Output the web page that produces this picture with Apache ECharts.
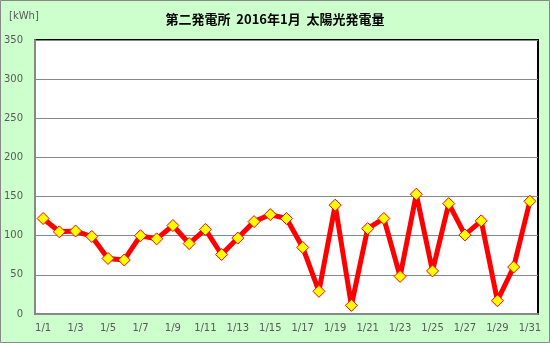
<!DOCTYPE html>
<html><head><meta charset="utf-8">
<script src="https://cdn.jsdelivr.net/npm/echarts@6/dist/echarts.min.js"></script>
<style>html,body{margin:0;padding:0;}#c{width:550px;height:343px;}</style>
</head><body><div id="c"></div>
<script>
const categories = ['1/1','1/2','1/3','1/4','1/5','1/6','1/7','1/8','1/9','1/10','1/11','1/12','1/13','1/14','1/15','1/16','1/17','1/18','1/19','1/20','1/21','1/22','1/23','1/24','1/25','1/26','1/27','1/28','1/29','1/30','1/31'];
const values = [122,105,106,99,71,69,100,96,113,90,108,76,97,118,127,122,85,29,139,11,109,122,48,153,55,141,101,119,17,60,144];
const titleText = '第二発電所  2016年1月  太陽光発電量';
const unitText = '[kWh]';

const chart = echarts.init(document.getElementById('c'));
chart.setOption({
  backgroundColor: '#CCFFCC',
  animation: false,
  title: {
    text: titleText, left: 'center', top: 8,
    textStyle: {fontFamily: 'Noto Sans CJK JP', fontSize: 13, fontWeight: 'bold', color: '#000'}
  },
  graphic: [
    {type: 'rect', shape: {x: 0.5, y: 0.5, width: 549, height: 342}, style: {fill: 'none', stroke: '#888', lineWidth: 1}},
    {type: 'text', left: 9, top: 11, style: {text: unitText, fill: '#595959', font: '10px "DejaVu Sans"'}}
  ],
  grid: {left: 35, right: 12, top: 40, bottom: 29, show: true, backgroundColor: '#fff', borderColor: '#000', borderWidth: 2},
  xAxis: {
    type: 'category', data: categories, boundaryGap: true,
    axisLine: {lineStyle: {color: '#888', width: 2}},
    axisTick: {show: false},
    axisLabel: {interval: 1, color: '#595959', fontSize: 10, fontFamily: 'DejaVu Sans', margin: 9}
  },
  yAxis: {
    type: 'value', min: 0, max: 350, interval: 50,
    axisLine: {show: true, lineStyle: {color: '#888', width: 2}},
    axisTick: {show: false},
    splitLine: {lineStyle: {color: '#888', width: 1}},
    axisLabel: {color: '#595959', fontSize: 10, fontFamily: 'DejaVu Sans', margin: 12}
  },
  series: [{
    type: 'line', data: values, showAllSymbol: true,
    lineStyle: {color: '#FF0000', width: 5},
    symbol: 'diamond', symbolSize: 12,
    itemStyle: {color: '#FFFF00', borderColor: '#FF0000', borderWidth: 1}
  }]
});
</script></body></html>
